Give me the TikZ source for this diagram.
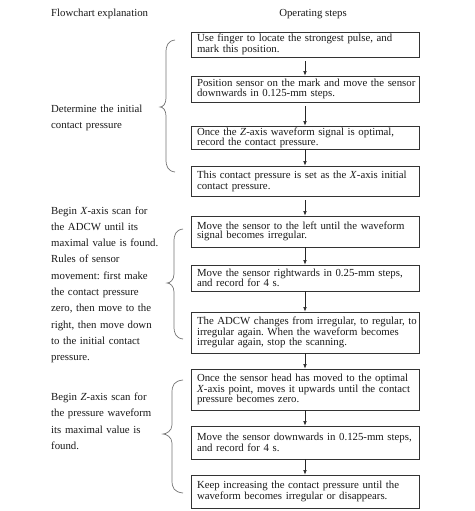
\documentclass[tikz,border=0pt]{standalone}
\usepackage{fontspec}
\setmainfont{Liberation Serif}
\usetikzlibrary{arrows.meta}
\frenchspacing
\newcommand\oneline[1]{\mbox{#1}}
\newcommand\curlyb[6]{% xr xv xt top tip bot
  \draw[bracestyle] (#1,#4) .. controls (#2+2,#4+1) and (#2,#4+5) .. (#2,#4+13)
    -- (#2,#5-9) .. controls (#2,#5-3) and (#3+3,#5) .. (#3,#5)
    .. controls (#3+3,#5) and (#2,#5+3) .. (#2,#5+9)
    -- (#2,#6-13) .. controls (#2,#6-5) and (#2+2,#6-1) .. (#1,#6);}
\begin{document}
\begin{tikzpicture}[x=1pt,y=-1pt,
  bx/.style={draw=black!80, line width=0.8pt, minimum width=228pt, text width=216pt,
    inner xsep=6pt, inner ysep=0pt, align=left, text=black!90,
    font=\fontsize{10.8}{#1}\selectfont\frenchspacing},
  lbl/.style={anchor=base west, text width=130pt, align=left, inner sep=0pt, text=black!90,
    font=\fontsize{10.8}{16.3}\selectfont\frenchspacing},
  arr/.style={-{Latex[length=4.5pt,width=3.6pt]}, line width=0.6pt, black!85},
  bracestyle/.style={draw=black!55, line width=0.7pt}]
\useasboundingbox (0,0) rectangle (474,511);
\node[anchor=base west, inner sep=0pt, font=\fontsize{10.8}{13}\selectfont, text=black!90] (h1) at (51,17) {Flowchart explanation};
\node[anchor=base, inner sep=0pt, font=\fontsize{10.8}{13}\selectfont, text=black!90] (h2) at (313,17) {Operating steps};

\node[bx=9.6, minimum height=25pt] (b1) at (305,44.5) {\oneline{Use finger to locate the strongest pulse, and}\\\oneline{mark this position.}};
\node[bx=9.6, minimum height=26pt] (b2) at (305,89) {\oneline{Position sensor on the mark and move the sensor}\\\oneline{downwards in 0.125-mm steps.}};
\node[bx=10, minimum height=23pt] (b3) at (305,137.5) {\oneline{Once the \textit{Z}-axis waveform signal is optimal,}\\\oneline{record the contact pressure.}};
\node[bx=11, minimum height=30pt] (b4) at (305,181) {\oneline{This contact pressure is set as the \textit{X}-axis initial}\\\oneline{contact pressure.}};
\node[bx=9.6, minimum height=31pt] (b5) at (305,231.5) {\oneline{Move the sensor to the left until the waveform}\\\oneline{signal becomes irregular.}};
\node[bx=10, minimum height=26pt] (b6) at (305,278) {\oneline{Move the sensor rightwards in 0.25-mm steps,}\\\oneline{and record for 4 s.}};
\node[bx=10.4, minimum height=41pt] (b7) at (305,332.5) {\oneline{The ADCW changes from irregular, to regular, to}\\\oneline{irregular again. When the waveform becomes}\\\oneline{irregular again, stop the scanning.}};
\node[bx=10.7, minimum height=41pt] (b8) at (305,389.5) {\oneline{Once the sensor head has moved to the optimal}\\\oneline{\textit{X}-axis point, moves it upwards until the contact}\\\oneline{pressure becomes zero.}};
\node[bx=11, minimum height=33pt] (b9) at (305,442.5) {\oneline{Move the sensor downwards in 0.125-mm steps,}\\\oneline{and record for 4 s.}};
\node[bx=10.7, minimum height=33pt] (b10) at (305,491.5) {\oneline{Keep increasing the contact pressure until the}\\\oneline{waveform becomes irregular or disappears.}};

\draw[arr, shorten <=4pt] (b1) -- (b2);
\draw[arr, shorten <=4pt] (b2) -- (b3);
\draw[arr] (b3) -- (b4);
\draw[arr, shorten <=4pt] (b4) -- (b5);
\draw[arr] (b5) -- (b6);
\draw[arr] (b6) -- (b7);
\draw[arr] (b7) -- (b8);
\draw[arr] (b8) -- (b9);
\draw[arr] (b9) -- (b10);

\node[lbl] (l1) at (51,112) {Determine the initial\\contact pressure};
\node[lbl] (l2) at (51,214) {Begin \textit{X}-axis scan for\\the ADCW until its\\maximal value is found.\\Rules of sensor\\movement: first make\\the contact pressure\\zero, then move to the\\right, then move down\\to the initial contact\\pressure.};
\node[lbl] (l3) at (51,400.5) {Begin \textit{Z}-axis scan for\\the pressure waveform\\its maximal value is\\found.};

\curlyb{175}{166}{160}{40}{107}{172}
\curlyb{183}{174}{167}{229}{283}{339}
\curlyb{183}{172}{163}{380}{434}{493}
\end{tikzpicture}
\end{document}
